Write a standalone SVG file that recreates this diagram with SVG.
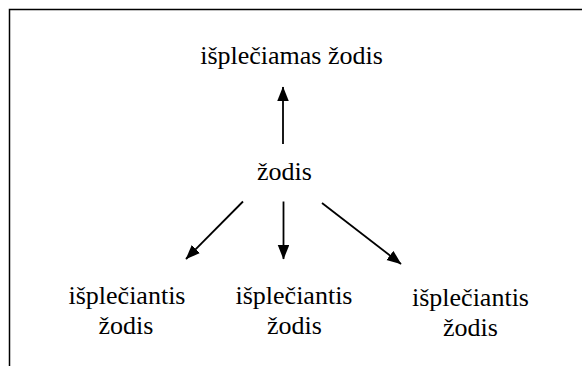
<svg xmlns="http://www.w3.org/2000/svg" width="582" height="366" viewBox="0 0 582 366">
  <style>
    .t { font-family: "Liberation Serif", "Times New Roman", serif; font-size: 26px; fill: #000; text-anchor: middle; }
    .c { stroke: #000; stroke-width: 1.8; fill: none; marker-end: url(#ah); }
    .frame { stroke: #000; stroke-width: 1.5; fill: none; }
  </style>
  <defs>
    <marker id="ah" markerUnits="userSpaceOnUse" markerWidth="15" markerHeight="12" refX="14" refY="5.75" orient="auto">
      <path d="M0,0 L14.5,5.75 L0,11.5 z" fill="#000"/>
    </marker>
  </defs>
  <rect width="582" height="366" fill="#fff"/>
  <path class="frame" d="M9.5,366 V9.5 H582"/>
  <g id="connectors">
    <line class="c" x1="283" y1="144" x2="283" y2="87"/>
    <line class="c" x1="243" y1="201.5" x2="186" y2="259"/>
    <line class="c" x1="283.5" y1="201.5" x2="283.5" y2="259"/>
    <line class="c" x1="322" y1="203" x2="401" y2="264"/>
  </g>
  <g id="node-top">
    <text class="t" x="291.5" y="64">išplečiamas žodis</text>
  </g>
  <g id="node-center">
    <text class="t" x="284.5" y="180">žodis</text>
  </g>
  <g id="node-left">
    <text class="t" x="127" y="304">išplečiantis</text>
    <text class="t" x="126" y="334">žodis</text>
  </g>
  <g id="node-middle">
    <text class="t" x="294" y="304">išplečiantis</text>
    <text class="t" x="294.5" y="334">žodis</text>
  </g>
  <g id="node-right">
    <text class="t" x="470.5" y="306">išplečiantis</text>
    <text class="t" x="470.5" y="336">žodis</text>
  </g>
</svg>
